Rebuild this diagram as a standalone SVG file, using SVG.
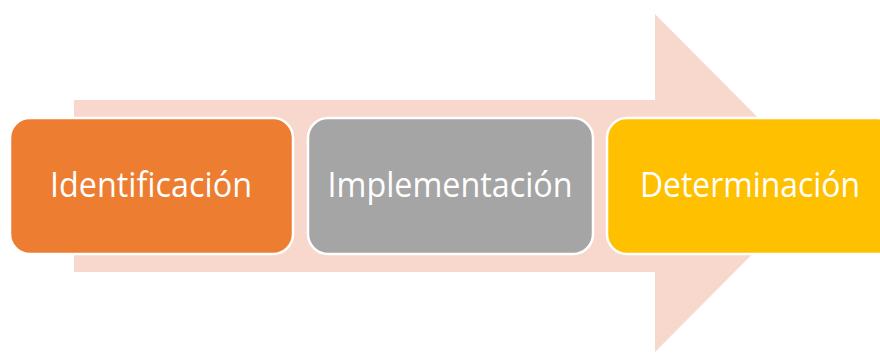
<svg xmlns="http://www.w3.org/2000/svg" width="880" height="354" viewBox="0 0 880 354">
<style>
.box{stroke:#FFFFFF;stroke-width:2.5}
.lbl{font-family:"Open Sans","Liberation Sans",sans-serif;font-size:34px;fill:#FFFFFF;text-anchor:middle}
</style>
<rect width="880" height="354" fill="#FFFFFF"/>
<g id="arrow">
<polygon points="74,100 655,100 655,14 823,183 655,352 655,272 74,272" fill="#F8D7CD"/>
</g>
<g id="n1">
<rect class="box" x="10" y="118" width="283" height="136" rx="20" fill="#ED7D31"/>
<text class="lbl" x="151" y="197" textLength="202" lengthAdjust="spacingAndGlyphs">Identificación</text>
</g>
<g id="n2">
<rect class="box" x="308" y="118" width="285" height="136" rx="20" fill="#A5A5A5"/>
<text class="lbl" x="450" y="197" textLength="245" lengthAdjust="spacingAndGlyphs">Implementación</text>
</g>
<g id="n3">
<rect class="box" x="607" y="118" width="290" height="136" rx="20" fill="#FFC000"/>
<text class="lbl" x="750" y="197" textLength="220" lengthAdjust="spacingAndGlyphs">Determinación</text>
</g>
</svg>
